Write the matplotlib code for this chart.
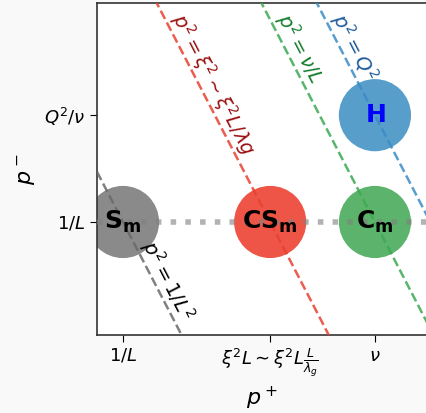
import numpy as np
import matplotlib.pyplot as plt

# ===== DATA (schematic momentum scales, log-log) =====
p_plus_vals = [1.0, 28.0, 300.0]          # 1/L, xi^2 L, nu
p_plus_labels = [r"$1/L$", r"$\xi^2 L \sim \xi^2 L \frac{L}{\lambda_g}$", r"$\nu$"]
p_minus_vals = [1.0, 3.5]                 # 1/L, Q^2/nu
p_minus_labels = [r"$1/L$", r"$Q^2/\nu$"]

# regions: label, p+, p-, colour
state_names = [r"$\mathbf{S_m}$", r"$\mathbf{CS_m}$", r"$\mathbf{C_m}$", r"$\mathbf{H}$"]
state_x = [1.0, 28.0, 300.0, 300.0]
state_y = [1.0, 1.0, 1.0, 3.5]
state_colors = ["#6d6d6d", "#ec2b18", "#33a147", "#2e86bf"]
state_text_colors = ["black", "black", "black", "blue"]

# lines of constant p^2 = p+ p-
line_consts = [1.0, 28.0, 300.0, 1050.0]
line_labels = [r"$p^2=1/L^2$", r"$p^2=\xi^2\sim\xi^2L/\lambda g$", r"$p^2=\nu/L$", r"$p^2=Q^2$"]
line_colors = ["#6a6a6a", "#e8402f", "#3aaa52", "#3a8cc6"]
line_text_colors = ["black", "#9a1010", "#137a2a", "#1c5a9a"]
label_y = [0.74, 10.6, 10.6, 10.6]

xlim = (0.555, 975)
ylim = (0.2656, 13.05)

# ===== FIGURE =====
fig = plt.figure(figsize=(4.27, 4.13), dpi=100, facecolor="#f9f9f9")
ax = fig.add_axes([97/427, 1 - 335/413, 330/427, 332/413])
ax.set_facecolor("white")
ax.set_xscale("log")
ax.set_yscale("log")
ax.set_xlim(*xlim)
ax.set_ylim(*ylim)

# regions (under the lines)
ax.scatter(state_x, state_y, s=2700, c=state_colors, alpha=0.8, edgecolors="none", zorder=2)

# dotted horizontal at p- = 1/L
ax.axhline(p_minus_vals[0], color="gray", alpha=0.6, lw=4, ls=":", zorder=3)

# constant p^2 lines
xs = np.logspace(np.log10(xlim[0]), np.log10(xlim[1]), 200)
for c, col, tcol, lab, ly in zip(line_consts, line_colors, line_text_colors, line_labels, label_y):
    ax.plot(xs, c / xs, ls="--", color=col, lw=1.8, alpha=0.85, zorder=3)
    lx = c / ly
    p1 = ax.transData.transform((lx, ly))
    p2 = ax.transData.transform((lx * 2, ly / 2))
    ang = np.degrees(np.arctan2(p2[1] - p1[1], p2[0] - p1[0]))
    ax.text(lx, ly, lab, color=tcol, fontsize=14, rotation=ang,
            rotation_mode="anchor", ha="left", va="bottom", zorder=5)

for name, x, y, tc in zip(state_names, state_x, state_y, state_text_colors):
    ax.text(x, y, name, color=tc, fontsize=18, ha="center", va="center", zorder=6)

ax.set_xticks(p_plus_vals)
ax.set_xticklabels(p_plus_labels)
ax.set_yticks(p_minus_vals)
ax.set_yticklabels(p_minus_labels)
ax.minorticks_off()
ax.tick_params(labelsize=13, length=5)
for s in ax.spines.values():
    s.set_color("#333333")
    s.set_linewidth(1.2)

ax.set_xlabel(r"$p^+$", fontsize=16)
ax.set_ylabel(r"$p^-$", fontsize=16)

fig.savefig("out.png", dpi=100, facecolor=fig.get_facecolor())
